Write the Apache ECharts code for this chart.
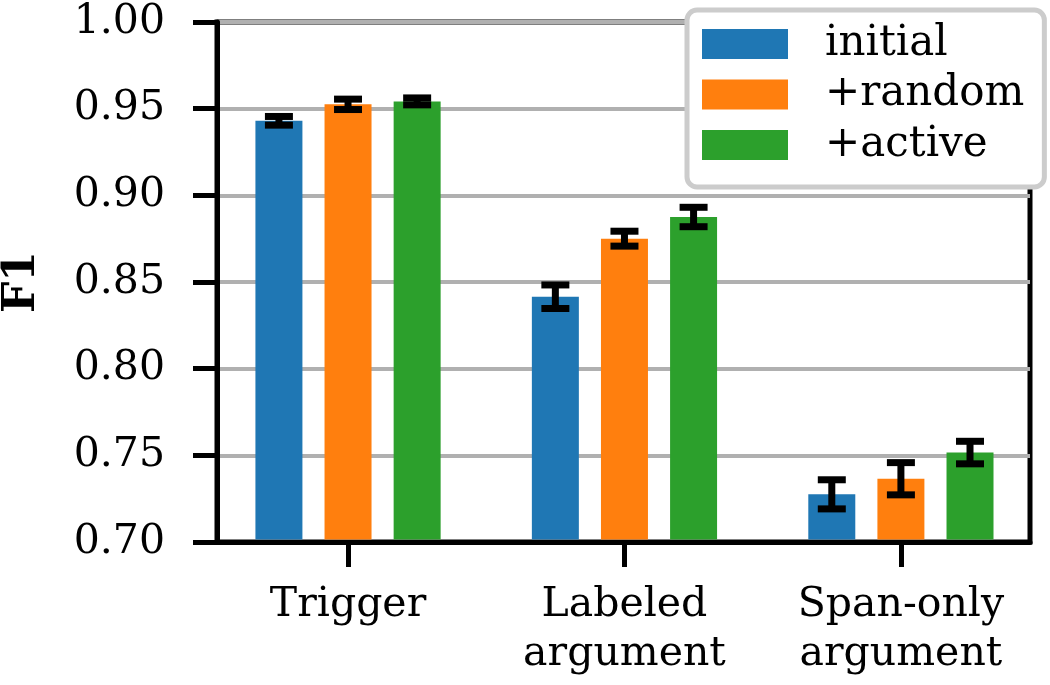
<!DOCTYPE html>
<html><head><meta charset="utf-8">
<script src="https://cdn.jsdelivr.net/npm/echarts@6/dist/echarts.min.js"></script>
<style>html,body{margin:0;padding:0;background:#fff}#c{width:1050px;height:685px}</style>
</head><body><div id="c"></div>
<script>
// ---- data ----
const categories = ['Trigger', 'Labeled\nargument', 'Span-only\nargument'];
const seriesNames = ['initial', '+random', '+active'];
const initialF1 = [0.9430, 0.8415, 0.7275];
const randomF1  = [0.9525, 0.8750, 0.7365];
const activeF1  = [0.9542, 0.8875, 0.7516];
const initialErr = [0.0025, 0.0068, 0.0084];
const randomErr  = [0.0030, 0.0043, 0.0093];
const activeErr  = [0.0020, 0.0056, 0.0065];
const yTickLabels = ['0.70', '0.75', '0.80', '0.85', '0.90', '0.95', '1.00'];

// ---- style ----
const FONT = "'DejaVu Serif', serif";
const colors = ['#1f77b4', '#ff7f0e', '#2ca02c'];
const offsets = [-0.25, 0, 0.25];
const halfBar = 0.085;
const yMin = parseFloat(yTickLabels[0]);
const yMax = parseFloat(yTickLabels[yTickLabels.length - 1]);
const values = [initialF1, randomF1, activeF1];
const errs = [initialErr, randomErr, activeErr];

const chart = echarts.init(document.getElementById('c'), null, {renderer: 'canvas'});

const barSeries = seriesNames.map((name, s) => ({
  name: name,
  type: 'custom',
  itemStyle: {color: colors[s]},
  z: 2,
  data: values[s].map((v, i) => [i, v]),
  renderItem: function (params, api) {
    const x = api.value(0) + offsets[s];
    const v = api.value(1);
    const p1 = api.coord([x - halfBar, v]);
    const p2 = api.coord([x + halfBar, yMin]);
    const bottom = p2[1] - 2.5;
    return {
      type: 'rect',
      shape: {x: p1[0], y: p1[1], width: p2[0] - p1[0], height: bottom - p1[1]},
      style: {fill: colors[s]}
    };
  }
}));

const errSeries = seriesNames.map((name, s) => ({
  type: 'custom',
  z: 5,
  silent: true,
  data: values[s].map((v, i) => [i, v, errs[s][i]]),
  renderItem: function (params, api) {
    const x = api.value(0) + offsets[s];
    const v = api.value(1), e = api.value(2);
    const top = api.coord([x, v + e]);
    const bot = api.coord([x, v - e]);
    const cw = 14;
    const st = {stroke: '#000', lineWidth: 7};
    return {
      type: 'group',
      children: [
        {type: 'line', shape: {x1: top[0], y1: top[1], x2: bot[0], y2: bot[1]}, style: st},
        {type: 'line', shape: {x1: top[0] - cw, y1: top[1], x2: top[0] + cw, y2: top[1]}, style: st},
        {type: 'line', shape: {x1: bot[0] - cw, y1: bot[1], x2: bot[0] + cw, y2: bot[1]}, style: st}
      ]
    };
  }
}));

chart.setOption({
  animation: false,
  backgroundColor: '#fff',
  grid: {
    left: 217, right: 20, top: 22, bottom: 143,
    containLabel: false, outerBoundsMode: 'none',
    show: true, borderColor: '#000', borderWidth: 5, backgroundColor: 'transparent'
  },
  legend: {
    orient: 'vertical',
    left: 687, top: 10,
    padding: [11, 20, 19, 15],
    itemWidth: 86, itemHeight: 30, itemGap: 4.5,
    icon: 'rect',
    data: seriesNames,
    backgroundColor: '#fff',
    borderColor: '#cccccc', borderWidth: 5, borderRadius: 10,
    textStyle: {fontFamily: FONT, fontSize: 42, color: '#000', lineHeight: 46, padding: [0, 0, 0, 32]}
  },
  xAxis: {
    type: 'value',
    min: -0.474, max: 2.467,
    splitLine: {show: false},
    axisLine: {show: true, onZero: false, lineStyle: {color: '#000', width: 5}},
    axisTick: {show: true, customValues: [0, 1, 2], length: 25, lineStyle: {color: '#000', width: 5}},
    axisLabel: {
      customValues: [0, 1, 2],
      formatter: v => categories[Math.round(v)],
      fontFamily: FONT, fontSize: 41, color: '#000', lineHeight: 49, margin: 39, align: 'center'
    }
  },
  yAxis: {
    type: 'value',
    min: yMin, max: yMax, interval: 0.05,
    name: 'F1',
    nameLocation: 'middle',
    nameGap: 172,
    nameTextStyle: {fontFamily: FONT, fontSize: 44, fontWeight: 'bold', color: '#000'},
    axisLine: {show: true, onZero: false, lineStyle: {color: '#000', width: 5}},
    axisTick: {show: true, length: 24, lineStyle: {color: '#000', width: 5}},
    splitLine: {show: true, lineStyle: {color: '#b0b0b0', width: 4}},
    axisLabel: {
      formatter: v => yTickLabels[Math.round((v - yMin) / 0.05)],
      fontFamily: FONT, fontSize: 41, color: '#000', margin: 52
    }
  },
  series: barSeries.concat(errSeries)
});
</script>
</body></html>
